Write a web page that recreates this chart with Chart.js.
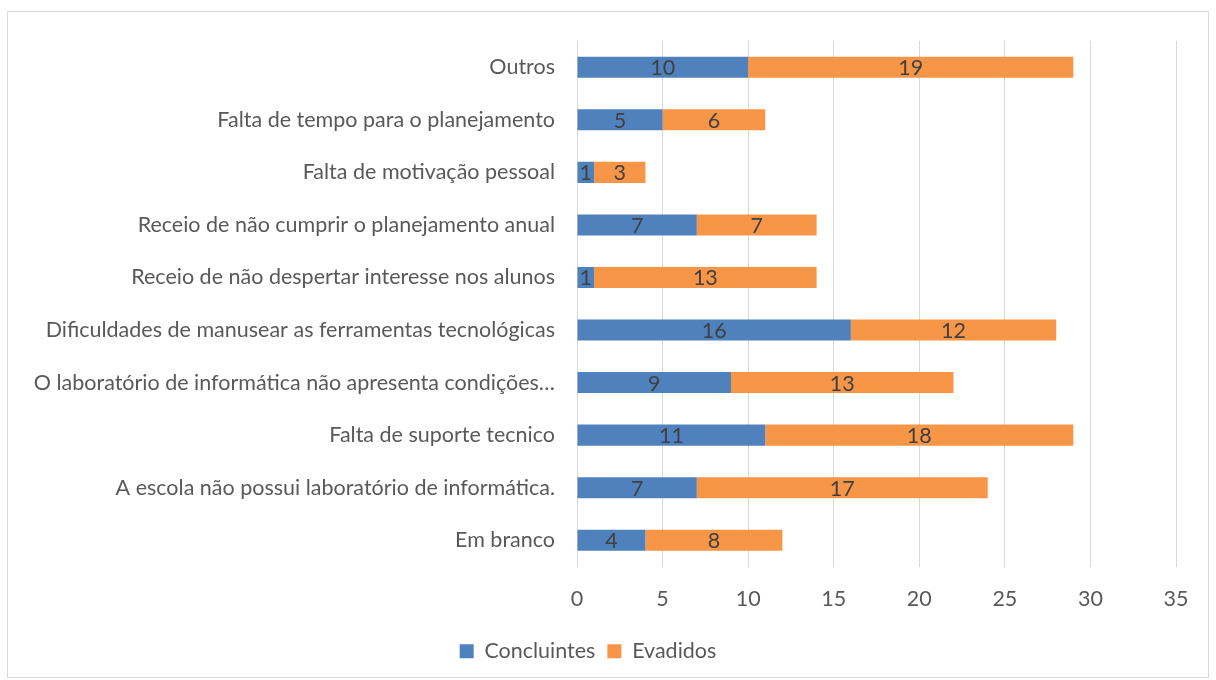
<!DOCTYPE html>
<html>
<head>
<meta charset="utf-8">
<script src="https://cdn.jsdelivr.net/npm/chart.js@4.4.1/dist/chart.umd.min.js"></script>
<style>
	body { margin: 0; background: #fff; }
	#frame { position: absolute; left: 7px; top: 11px; width: 1200px; height: 665px; border: 1px solid #d9d9d9; }
	#wrap { position: absolute; left: 0; top: 0; width: 1216px; height: 680px; }
</style>
</head>
<body>
<div id="frame"></div>
<div id="wrap"><canvas id="chart" width="1216" height="680"></canvas></div>
<script>
const categories = [
	'Outros',
	'Falta de tempo para o planejamento',
	'Falta de motivação pessoal',
	'Receio de não cumprir o planejamento anual',
	'Receio de não despertar interesse nos alunos',
	'Dificuldades de manusear as ferramentas tecnológicas',
	'O laboratório de informática não apresenta condições…',
	'Falta de suporte tecnico',
	'A escola não possui laboratório de informática.',
	'Em branco',
]
const concluintes = [10, 5, 1, 7, 1, 16, 9, 11, 7, 4]
const evadidos = [19, 6, 3, 7, 13, 12, 13, 18, 17, 8]
const xTicks = [0, 5, 10, 15, 20, 25, 30, 35]

const FONT = 'Lato, "Open Sans", sans-serif'
const SIZE = 21.5

// etiquetas dentro das barras
const barLabels = {
	id: 'barLabels',
	afterDatasetsDraw(chart) {
		const ctx = chart.ctx
		ctx.save()
		ctx.font = SIZE + 'px ' + FONT
		ctx.fillStyle = '#404040'
		ctx.textAlign = 'center'
		ctx.textBaseline = 'middle'
		chart.data.datasets.forEach((ds, i) => {
			chart.getDatasetMeta(i).data.forEach((bar, j) => {
				const cx = (bar.x + bar.base) / 2
				ctx.fillText(String(ds.data[j]), cx, bar.y + 1)
			})
		})
		ctx.restore()
	},
}

const ctx = document.getElementById('chart').getContext('2d')
new Chart(ctx, {
	type: 'bar',
	data: {
		labels: categories,
		datasets: [
			{
				label: 'Concluintes',
				data: concluintes,
				backgroundColor: '#4f81bd',
				barPercentage: 0.4,
				categoryPercentage: 1,
			},
			{
				label: 'Evadidos',
				data: evadidos,
				backgroundColor: '#f79646',
				barPercentage: 0.4,
				categoryPercentage: 1,
			},
		],
	},
	options: {
		indexAxis: 'y',
		responsive: false,
		animation: false,
		layout: {
			padding: { top: 41, right: 40, bottom: 8, left: 0 },
		},
		scales: {
			x: {
				stacked: true,
				min: 0,
				max: 35,
				afterBuildTicks: (scale) => {
					scale.ticks = xTicks.map((v) => ({ value: v }))
				},
				afterFit: (scale) => {
					scale.height = 62
				},
				grid: { color: '#d9d9d9', drawTicks: false },
				border: { display: false },
				ticks: {
					padding: 20,
					color: '#595959',
					font: { family: FONT, size: SIZE },
				},
			},
			y: {
				stacked: true,
				afterFit: (scale) => {
					scale.width = 577
				},
				grid: { display: false, drawTicks: false },
				border: { display: true, color: '#d9d9d9' },
				ticks: {
					padding: 22,
					color: '#595959',
					font: { family: FONT, size: SIZE },
				},
			},
		},
		plugins: {
			legend: {
				position: 'bottom',
				labels: {
					boxWidth: 14,
					boxHeight: 14,
					padding: 12,
					color: '#595959',
					font: { family: FONT, size: SIZE },
				},
			},
			tooltip: { enabled: false },
		},
	},
	plugins: [barLabels],
})
</script>
</body>
</html>
